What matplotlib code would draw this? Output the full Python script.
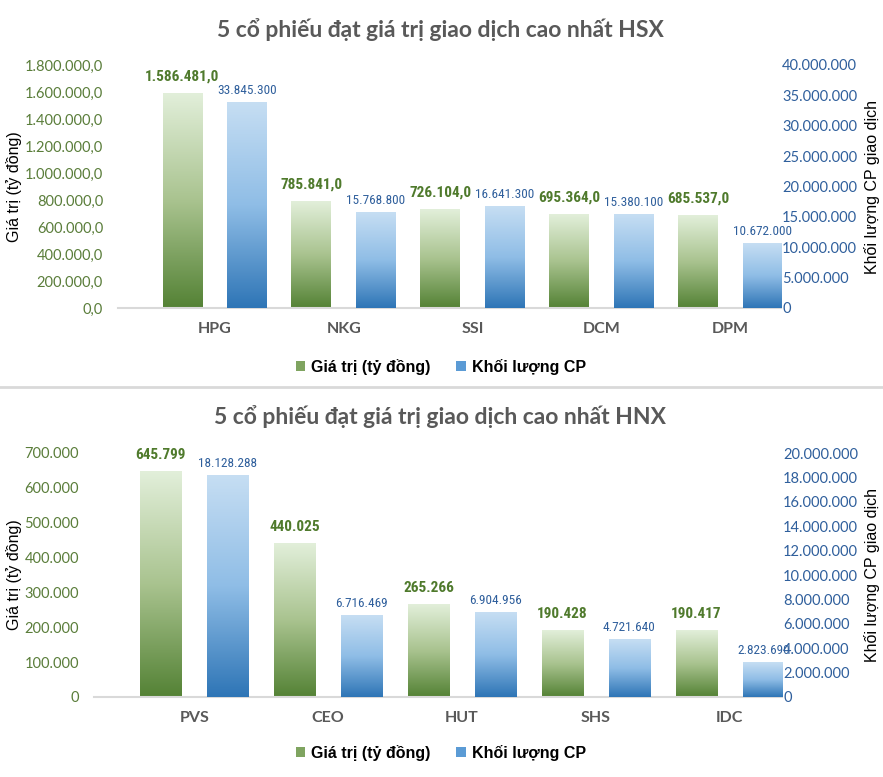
import numpy as np
import matplotlib.pyplot as plt
from matplotlib.colors import LinearSegmentedColormap
from matplotlib.patches import Patch
from matplotlib.lines import Line2D

plt.rcParams['font.family'] = ['Lato', 'DejaVu Sans']

# HSX panel
hsx_title = '5 cổ phiếu đạt giá trị giao dịch cao nhất HSX'
hsx_codes = ['HPG', 'NKG', 'SSI', 'DCM', 'DPM']
hsx_value = [1586481.0, 785841.0, 726104.0, 695364.0, 685537.0]
hsx_volume = [33845300, 15768800, 16641300, 15380100, 10672000]

# HNX panel
hnx_title = '5 cổ phiếu đạt giá trị giao dịch cao nhất HNX'
hnx_codes = ['PVS', 'CEO', 'HUT', 'SHS', 'IDC']
hnx_value = [645799, 440025, 265266, 190428, 190417]
hnx_volume = [18128288, 6716469, 6904956, 4721640, 2823690]

value_name = 'Giá trị (tỷ đồng)'
volume_name = 'Khối lượng CP'
left_label = 'Giá trị (tỷ đồng)'
right_label = 'Khối lượng CP giao dịch'

W, H = 883, 777
fig = plt.figure(figsize=(W / 100, H / 100), dpi=100)

green_cm = LinearSegmentedColormap.from_list('g', ['#548235', '#a9c38f', '#e2efda'])
blue_cm = LinearSegmentedColormap.from_list('b', ['#2e75b6', '#8fbde6', '#c6def3'])
grad = np.linspace(0, 1, 256).reshape(-1, 1)

GREEN_TXT = '#4f7a2c'
BLUE_TXT = '#2f5f9c'
narrow_bold = ['Roboto Condensed', 'Barlow Semi Condensed', 'Archivo Narrow', 'DejaVu Sans']
narrow = ['Liberation Sans Narrow', 'Roboto Condensed', 'Archivo Narrow', 'DejaVu Sans']


def vn(v, dec=0):
    s = f"{v:,.{dec}f}"
    return s.replace(',', ' ').replace('.', ',').replace(' ', '.')


def gradient_bars(ax, bars, cmap):
    for r in bars:
        x0, w, h = r.get_x(), r.get_width(), r.get_height()
        ax.imshow(grad, cmap=cmap, origin='lower', aspect='auto',
                  extent=(x0, x0 + w, 0, h), zorder=2, interpolation='bilinear')


def panel(box, title_y, legend_y, title, codes, value, volume,
          vmax, vstep, vdec, qmax, qstep):
    l, t, r, b = box
    ax = fig.add_axes([l / W, 1 - b / H, (r - l) / W, (b - t) / H])
    ax2 = ax.twinx()
    x = np.arange(len(codes))
    b1 = ax.bar(x - 0.25, value, 0.31, color='none')
    b2 = ax2.bar(x + 0.25, volume, 0.31, color='none')
    gradient_bars(ax, b1, green_cm)
    gradient_bars(ax2, b2, blue_cm)

    for rect, v in zip(b1, value):
        ax.annotate(vn(v, vdec), (rect.get_x() + rect.get_width() / 2, rect.get_height()),
                    xytext=(0, 17), textcoords='offset pixels', ha='center', va='center',
                    fontsize=11, fontweight='bold', color=GREEN_TXT, family=narrow_bold)
    for rect, v in zip(b2, volume):
        ax2.annotate(vn(v), (rect.get_x() + rect.get_width() / 2, rect.get_height()),
                     xytext=(0, 12), textcoords='offset pixels', ha='center', va='center',
                     fontsize=9.5, color=BLUE_TXT, family=narrow)

    ax.set_ylim(0, vmax)
    ax2.set_ylim(0, qmax)
    vt = np.arange(0, vmax + 1, vstep)
    ax.set_yticks(vt, [vn(v, vdec) if v else ('0,0' if vdec else '0') for v in vt])
    qt = np.arange(0, qmax + 1, qstep)
    ax2.set_yticks(qt, [vn(v) for v in qt])
    ax.set_xticks(x, codes)
    ax.set_xlim(-0.75, 4.39)

    ax.tick_params(axis='y', length=0, pad=10.8, labelcolor='#5a7d3a', labelsize=10.5)
    ax2.tick_params(axis='y', length=0, pad=0.8, labelcolor=BLUE_TXT, labelsize=10.5)
    ax.tick_params(axis='x', length=0, pad=10, labelcolor='#595959', labelsize=11.5)
    for lab in ax.get_xticklabels():
        lab.set_fontweight('bold')
    for s in ax.spines.values():
        s.set_visible(False)
    for s in ax2.spines.values():
        s.set_visible(False)
    ax.spines['bottom'].set_visible(True)
    ax.spines['bottom'].set_color('#d9d9d9')
    ax.spines['bottom'].set_linewidth(1.5)
    ax.set_facecolor('none')

    yc = 1 - (t + b) / 2 / H
    fig.text(14 / W, yc, left_label, rotation=90, ha='center', va='center',
             fontsize=11.5, family=['Liberation Sans'], color='black')
    fig.text(872 / W, yc, right_label, rotation=90, ha='center', va='center',
             fontsize=11.5, family=['Liberation Sans'], color='black')
    fig.text(440 / W, 1 - title_y / H, title, ha='center', va='center',
             fontsize=16.5, fontweight='bold', color='#595959')
    handles = [Patch(facecolor='#7fa460'), Patch(facecolor='#5b9bd5')]
    fig.legend(handles, [value_name, volume_name], loc='center',
               bbox_to_anchor=(441 / W, 1 - legend_y / H), ncol=2, frameon=False,
               handlelength=0.6, handleheight=0.6, handletextpad=0.4, columnspacing=1.6,
               prop={'family': 'Liberation Sans', 'weight': 'bold', 'size': 11.5})


panel((118, 65, 781, 308), 30, 367, hsx_title, hsx_codes, hsx_value, hsx_volume,
      1800000, 200000, 1, 40000000, 5000000)
panel((94, 453, 782, 697), 417, 753, hnx_title, hnx_codes, hnx_value, hnx_volume,
      700000, 100000, 0, 20000000, 2000000)

fig.add_artist(Line2D([0, 1], [1 - 387 / H, 1 - 387 / H], transform=fig.transFigure,
                      color='#d9d9d9', lw=2))

fig.savefig('out.png', dpi=100)
